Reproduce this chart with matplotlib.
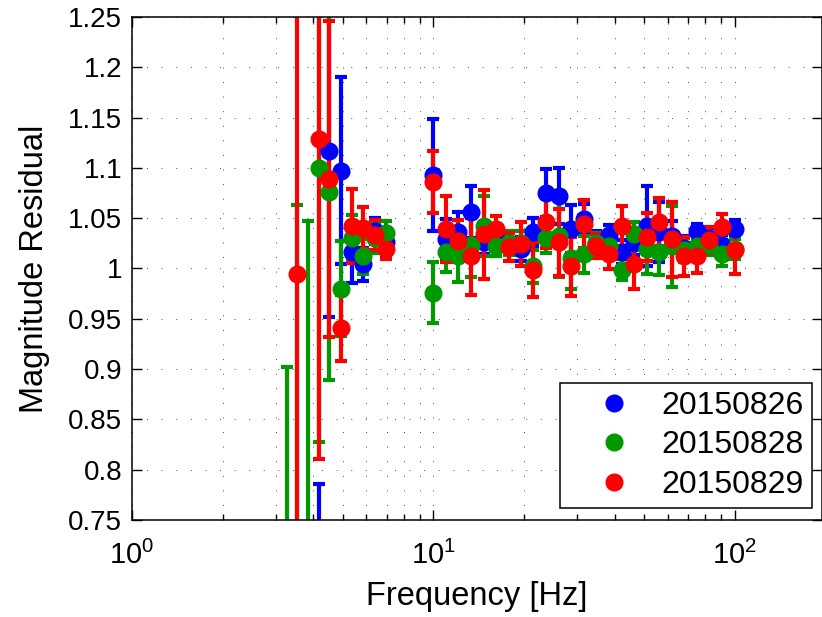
import numpy as np
import matplotlib
matplotlib.use("Agg")
import matplotlib.pyplot as plt
from matplotlib.lines import Line2D
from matplotlib.ticker import FixedLocator, FuncFormatter, LogLocator, NullFormatter

plt.rcParams["font.family"] = ["Liberation Sans", "DejaVu Sans"]
plt.rcParams["mathtext.fontset"] = "custom"
plt.rcParams["mathtext.rm"] = "Liberation Sans"
plt.rcParams["mathtext.it"] = "Liberation Sans:italic"
plt.rcParams["mathtext.default"] = "regular"

# frequencies [Hz]
freq = [3.26, 3.52, 3.83, 4.16, 4.52, 4.95, 5.39, 5.86, 6.39, 6.99,
        10.0, 11.0, 12.1, 13.3, 14.7, 16.2, 17.8, 19.6, 21.5, 23.7,
        26.1, 28.7, 31.6, 34.8, 38.3, 42.2, 46.4, 51.1, 56.2, 61.9,
        68.1, 75.0, 82.5, 90.9, 100.0]

nan = float("nan")

# 20150826
val_0826 = [nan, nan, nan, 0.65, 1.117, 1.097, 1.016, 1.004, 1.037, 1.026,
            1.093, 1.029, 1.036, 1.056, 1.026, 1.030, 1.025, 1.019, 1.036, 1.075,
            1.072, 1.039, 1.049, 1.025, 1.033, 1.016, 1.025, 1.042, 1.036, 1.032,
            1.020, 1.037, 1.030, 1.023, 1.039]
err_0826 = [nan, nan, nan, 0.136, 0.165, 0.093, 0.030, 0.016, 0.013, 0.014,
            0.056, 0.020, 0.020, 0.026, 0.012, 0.012, 0.010, 0.012, 0.014, 0.024,
            0.028, 0.024, 0.015, 0.012, 0.010, 0.012, 0.012, 0.040, 0.030, 0.015,
            0.012, 0.007, 0.010, 0.010, 0.009]

# 20150828
val_0828 = [0.60, 0.72, 0.73, 1.10, 1.076, 0.980, 1.030, 1.012, 1.030, 1.035,
            0.976, 1.016, 1.012, 1.023, 1.042, 1.022, 1.025, 1.025, 1.002, 1.030,
            1.032, 1.010, 1.014, 1.025, 1.022, 0.999, 1.034, 1.019, 1.016, 1.022,
            1.018, 1.022, 1.023, 1.014, 1.019]
err_0828 = [0.302, 0.343, 0.317, 0.272, 0.187, 0.047, 0.023, 0.017, 0.015, 0.012,
            0.030, 0.019, 0.025, 0.031, 0.030, 0.010, 0.012, 0.012, 0.016, 0.015,
            0.040, 0.030, 0.018, 0.010, 0.010, 0.010, 0.012, 0.024, 0.022, 0.040,
            0.012, 0.010, 0.010, 0.012, 0.010]

# 20150829
val_0829 = [nan, 0.995, nan, 1.129, 1.089, 0.941, 1.042, 1.040, 1.033, 1.019,
            1.086, 1.039, 1.027, 1.012, 1.034, 1.039, 1.021, 1.024, 0.999, 1.046,
            1.026, 1.002, 1.044, 1.022, 1.014, 1.042, 1.004, 1.031, 1.046, 1.029,
            1.012, 1.012, 1.028, 1.041, 1.018]
err_0829 = [nan, 0.500, nan, 0.318, 0.157, 0.033, 0.037, 0.021, 0.015, 0.010,
            0.031, 0.033, 0.021, 0.038, 0.044, 0.013, 0.014, 0.022, 0.027, 0.026,
            0.033, 0.029, 0.024, 0.012, 0.014, 0.020, 0.024, 0.024, 0.024, 0.037,
            0.019, 0.016, 0.013, 0.013, 0.023]

labels = ["20150826", "20150828", "20150829"]
colors = ["#0000ff", "#009900", "#ff0000"]

fig = plt.figure(figsize=(8.22, 6.17), dpi=100)
ax = fig.add_axes([132 / 822, 97 / 617, 690 / 822, 503 / 617])

for v, e, c in zip([val_0826, val_0828, val_0829],
                   [err_0826, err_0828, err_0829], colors):
    ax.errorbar(freq, v, yerr=e, fmt="o", color=c, ms=12, mec=c, mfc=c,
                elinewidth=3, capsize=4.3, capthick=3)

ax.set_xscale("log")
ax.set_xlim(1, 195)
ax.set_ylim(0.75, 1.25)

ax.yaxis.set_major_locator(FixedLocator(np.arange(0.75, 1.2501, 0.05)))
ax.yaxis.set_major_formatter(FuncFormatter(lambda y, p: "%g" % round(y, 2)))
ax.xaxis.set_major_locator(LogLocator(base=10))
ax.xaxis.set_minor_locator(LogLocator(base=10, subs=np.arange(2, 10)))
ax.xaxis.set_minor_formatter(NullFormatter())
ax.xaxis.set_major_formatter(FuncFormatter(lambda x, p: r"$10^{%d}$" % round(np.log10(x))))

ax.grid(True, which="major", color="0.3", linestyle=(0, (1, 14)), linewidth=0.7)
ax.grid(True, which="minor", axis="x", color="0.3", linestyle=(0, (1, 14)), linewidth=0.7)

ax.tick_params(which="both", direction="in", top=True, right=True, width=1)
ax.tick_params(which="major", length=7, labelsize=20, pad=7)
ax.tick_params(which="minor", length=4)
ax.tick_params(axis="x", which="major", labelsize=21, pad=15)
for s in ax.spines.values():
    s.set_linewidth(1.1)

ax.set_xlabel("Frequency [Hz]", fontsize=23.5, labelpad=8)
ax.set_ylabel("Magnitude Residual", fontsize=23.5, labelpad=13)

handles = [Line2D([], [], marker="o", linestyle="none", color=c, ms=12) for c in colors]
leg = ax.legend(handles, labels, loc="lower right", bbox_to_anchor=(0.9855, 0.024),
                borderaxespad=0, fontsize=23, frameon=True, fancybox=False,
                edgecolor="black", framealpha=1, handlelength=2.9,
                handletextpad=0.05, labelspacing=0.3, borderpad=0.25)
leg.get_frame().set_linewidth(1.1)

fig.savefig("out.png", dpi=100)
